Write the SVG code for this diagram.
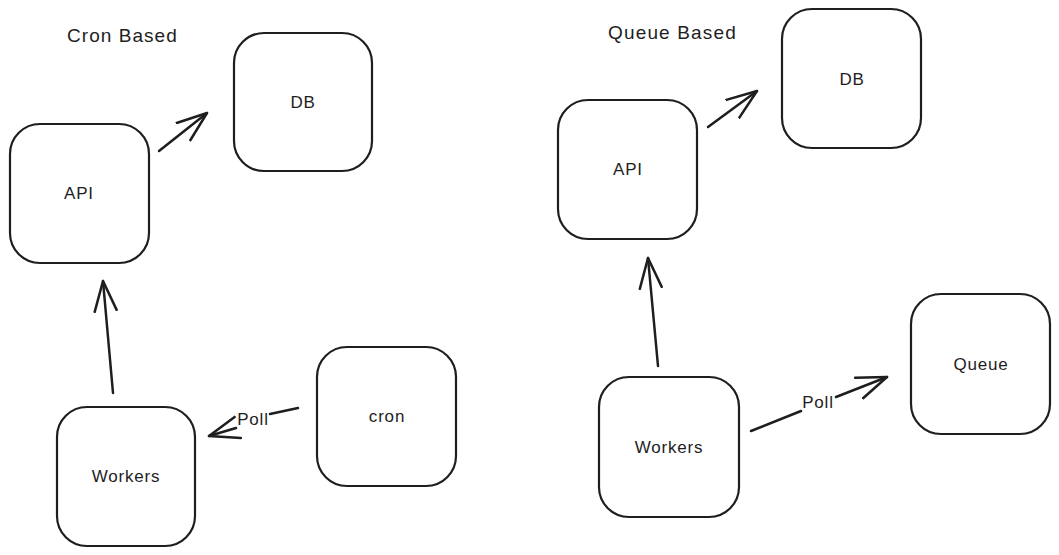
<svg xmlns="http://www.w3.org/2000/svg" width="1059" height="555" viewBox="0 0 1059 555">
<style>
.node rect{fill:#fff;stroke:#1e1e1e;stroke-width:2.2}
.lbl{font-family:"Liberation Sans",Arial,sans-serif;font-size:17px;letter-spacing:0.8px;fill:#1e1e1e;text-anchor:middle;dominant-baseline:central}
.title{font-family:"Liberation Sans",Arial,sans-serif;font-size:19px;letter-spacing:1.2px;fill:#1e1e1e}
.edge{fill:none;stroke:#1e1e1e;stroke-width:2.5;stroke-linecap:round;marker-end:url(#ah)}
</style>
<defs>
<marker id="ah" markerUnits="userSpaceOnUse" markerWidth="34" markerHeight="28" refX="31" refY="14" orient="auto" viewBox="0 0 34 28">
<path d="M1,3 L31,14 L1,25" fill="none" stroke="#1e1e1e" stroke-width="2.5" stroke-linecap="round" stroke-linejoin="round"/>
</marker>
</defs>
<rect width="1059" height="555" fill="#fff"/>
<text class="title" x="67" y="42" textLength="111">Cron Based</text>
<text class="title" x="608" y="39" textLength="129">Queue Based</text>
<g id="db-left" class="node"><rect x="234" y="33" width="138" height="138" rx="30"/><text class="lbl" x="303" y="102">DB</text></g>
<g id="api-left" class="node"><rect x="10" y="124" width="139" height="139" rx="30"/><text class="lbl" x="79" y="193">API</text></g>
<g id="workers-left" class="node"><rect x="57" y="407" width="138" height="139" rx="30"/><text class="lbl" x="126" y="476">Workers</text></g>
<g id="cron" class="node"><rect x="317" y="347" width="139" height="139" rx="30"/><text class="lbl" x="387" y="416">cron</text></g>
<g id="db-right" class="node"><rect x="782" y="9" width="139" height="139" rx="30"/><text class="lbl" x="852" y="79">DB</text></g>
<g id="api-right" class="node"><rect x="558" y="100" width="139" height="139" rx="30"/><text class="lbl" x="628" y="169">API</text></g>
<g id="workers-right" class="node"><rect x="599" y="377" width="140" height="140" rx="30"/><text class="lbl" x="669" y="447">Workers</text></g>
<g id="queue" class="node"><rect x="911" y="294" width="139" height="140" rx="30"/><text class="lbl" x="981" y="364">Queue</text></g>
<g id="connectors">
<path class="edge" d="M159,151 L207,113"/>
<path class="edge" d="M113,393 L103,281"/>
<path class="edge" d="M298,408 L270,414 M236,428 L209,436"/>
<text class="lbl" x="253" y="419">Poll</text>
<path class="edge" d="M708,127 L757,91"/>
<path class="edge" d="M658,366 L648,258"/>
<path class="edge" d="M751,431 L801,411 M836,397 L887,377"/>
<text class="lbl" x="818" y="402">Poll</text>
</g>
</svg>
